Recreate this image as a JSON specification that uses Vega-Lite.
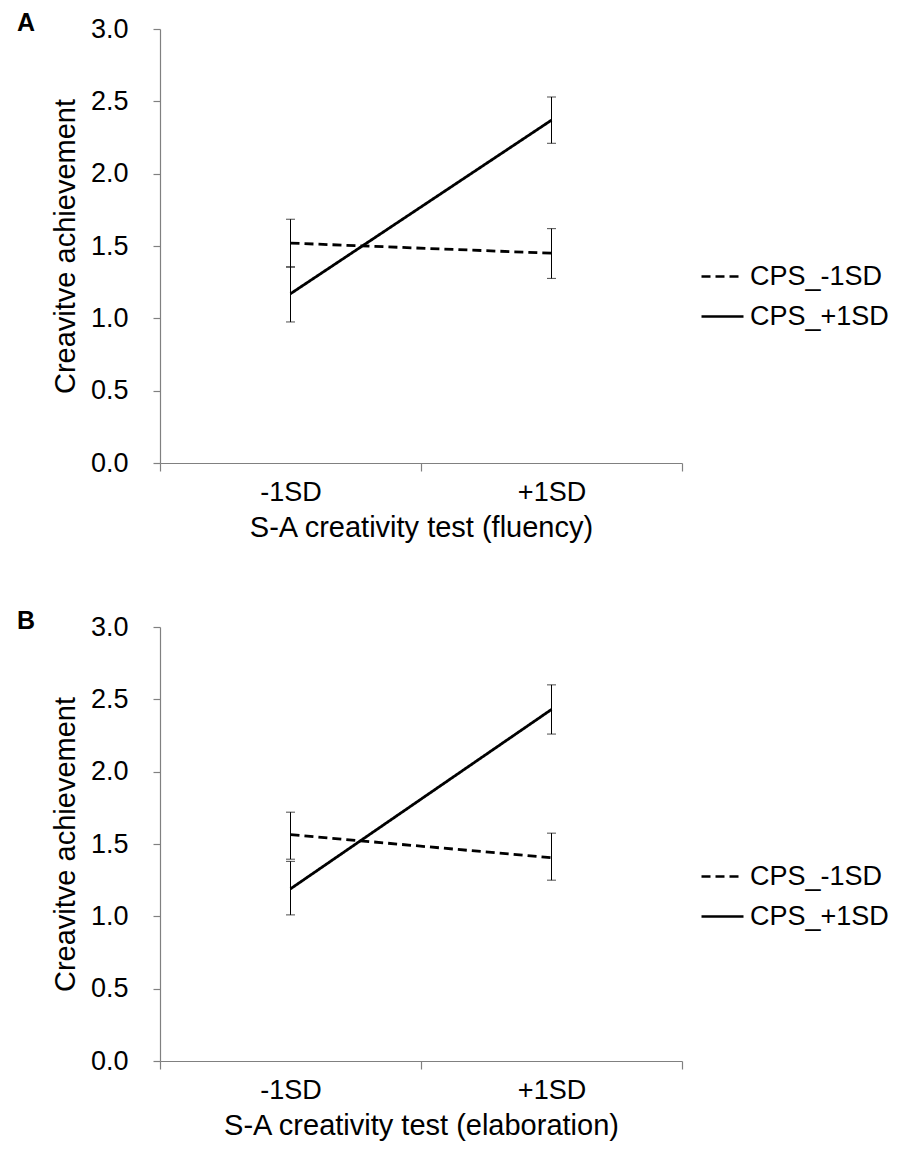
{
  "$schema": "https://vega.github.io/schema/vega-lite/v6.json",
  "background": "white",
  "padding": {"left": 17, "top": 11, "right": 5, "bottom": 5},
  "data": {"values": [
    {"panel": "A", "level": "-1SD", "cps": "CPS_-1SD", "mean": 1.52, "lo": 1.355, "hi": 1.685},
    {"panel": "A", "level": "+1SD", "cps": "CPS_-1SD", "mean": 1.45, "lo": 1.276, "hi": 1.62},
    {"panel": "A", "level": "-1SD", "cps": "CPS_+1SD", "mean": 1.17, "lo": 0.975, "hi": 1.355},
    {"panel": "A", "level": "+1SD", "cps": "CPS_+1SD", "mean": 2.37, "lo": 2.21, "hi": 2.53},
    {"panel": "B", "level": "-1SD", "cps": "CPS_-1SD", "mean": 1.565, "lo": 1.395, "hi": 1.72},
    {"panel": "B", "level": "+1SD", "cps": "CPS_-1SD", "mean": 1.405, "lo": 1.25, "hi": 1.575},
    {"panel": "B", "level": "-1SD", "cps": "CPS_+1SD", "mean": 1.19, "lo": 1.01, "hi": 1.38},
    {"panel": "B", "level": "+1SD", "cps": "CPS_+1SD", "mean": 2.43, "lo": 2.26, "hi": 2.6}
  ]},
  "config": {
    "view": {"stroke": null},
    "font": "Liberation Sans",
    "axis": {
      "grid": false,
      "domainColor": "#808080",
      "tickColor": "#808080",
      "domainWidth": 1.2,
      "tickWidth": 1.2,
      "labelFont": "Liberation Sans",
      "titleFont": "Liberation Sans",
      "labelColor": "black",
      "titleColor": "black",
      "labelFontSize": 27,
      "titleFontSize": 29,
      "titleFontWeight": "normal"
    },
    "axisX": {"tickSize": 8, "labelPadding": 8, "titlePadding": 8, "labelAngle": 0},
    "axisY": {"tickSize": 7, "labelPadding": 25, "titlePadding": 10}
  },
  "spacing": 67,
  "resolve": {"scale": {"strokeDash": "independent"}, "legend": {"strokeDash": "independent"}},
  "vconcat": [
    {
      "title": {"text": "A", "anchor": "start", "frame": "group", "dx": -143, "dy": 3, "offset": -38, "baseline": "alphabetic", "fontSize": 25, "fontWeight": "bold", "font": "Liberation Sans", "color": "black"},
      "width": 522,
      "height": 434,
      "transform": [{"filter": "datum.panel == 'A'"}],
      "encoding": {
        "x": {"field": "level", "type": "nominal", "bandPosition": 0.5,
              "scale": {"type": "band", "domain": ["-1SD", "+1SD"], "paddingInner": 0, "paddingOuter": 0},
              "axis": {"title": "S-A creativity test (fluency)", "tickBand": "extent"}}
      },
      "layer": [
        {"mark": {"type": "rule", "color": "black", "strokeWidth": 1},
         "encoding": {
           "y": {"field": "lo", "type": "quantitative", "title": "Creavitve achievement",
                 "scale": {"domain": [0, 3], "nice": false},
                 "axis": {"values": [0, 0.5, 1, 1.5, 2, 2.5, 3], "format": ".1f"}},
           "y2": {"field": "hi"}}},
        {"mark": {"type": "tick", "color": "black", "thickness": 1, "size": 9},
         "encoding": {"y": {"field": "lo", "type": "quantitative", "title": "Creavitve achievement"}}},
        {"mark": {"type": "tick", "color": "black", "thickness": 1, "size": 9},
         "encoding": {"y": {"field": "hi", "type": "quantitative", "title": "Creavitve achievement"}}},
        {"mark": {"type": "line", "color": "black", "strokeWidth": 2.8},
         "encoding": {
           "y": {"field": "mean", "type": "quantitative", "title": "Creavitve achievement"},
           "strokeDash": {"field": "cps", "type": "nominal",
             "scale": {"domain": ["CPS_-1SD", "CPS_+1SD"], "range": [[9, 5], [1, 0]]},
             "legend": {"orient": "none", "legendX": 540, "legendY": 225, "title": null, "padding": 0,
               "symbolType": "stroke", "symbolSize": 1764, "symbolStrokeWidth": 2.5, "symbolStrokeColor": "black",
               "labelFontSize": 27, "labelFont": "Liberation Sans", "labelColor": "black", "labelOffset": 5, "rowPadding": 4}}}}
      ]
    },
    {
      "title": {"text": "B", "anchor": "start", "frame": "group", "dx": -143, "dy": 3, "offset": -38, "baseline": "alphabetic", "fontSize": 25, "fontWeight": "bold", "font": "Liberation Sans", "color": "black"},
      "width": 522,
      "height": 434,
      "transform": [{"filter": "datum.panel == 'B'"}],
      "encoding": {
        "x": {"field": "level", "type": "nominal", "bandPosition": 0.5,
              "scale": {"type": "band", "domain": ["-1SD", "+1SD"], "paddingInner": 0, "paddingOuter": 0},
              "axis": {"title": "S-A creativity test (elaboration)", "tickBand": "extent"}}
      },
      "layer": [
        {"mark": {"type": "rule", "color": "black", "strokeWidth": 1},
         "encoding": {
           "y": {"field": "lo", "type": "quantitative", "title": "Creavitve achievement",
                 "scale": {"domain": [0, 3], "nice": false},
                 "axis": {"values": [0, 0.5, 1, 1.5, 2, 2.5, 3], "format": ".1f"}},
           "y2": {"field": "hi"}}},
        {"mark": {"type": "tick", "color": "black", "thickness": 1, "size": 9},
         "encoding": {"y": {"field": "lo", "type": "quantitative", "title": "Creavitve achievement"}}},
        {"mark": {"type": "tick", "color": "black", "thickness": 1, "size": 9},
         "encoding": {"y": {"field": "hi", "type": "quantitative", "title": "Creavitve achievement"}}},
        {"mark": {"type": "line", "color": "black", "strokeWidth": 2.8},
         "encoding": {
           "y": {"field": "mean", "type": "quantitative", "title": "Creavitve achievement"},
           "strokeDash": {"field": "cps", "type": "nominal",
             "scale": {"domain": ["CPS_-1SD", "CPS_+1SD"], "range": [[9, 5], [1, 0]]},
             "legend": {"orient": "none", "legendX": 540, "legendY": 227, "title": null, "padding": 0,
               "symbolType": "stroke", "symbolSize": 1764, "symbolStrokeWidth": 2.5, "symbolStrokeColor": "black",
               "labelFontSize": 27, "labelFont": "Liberation Sans", "labelColor": "black", "labelOffset": 5, "rowPadding": 4}}}}
      ]
    }
  ]
}
